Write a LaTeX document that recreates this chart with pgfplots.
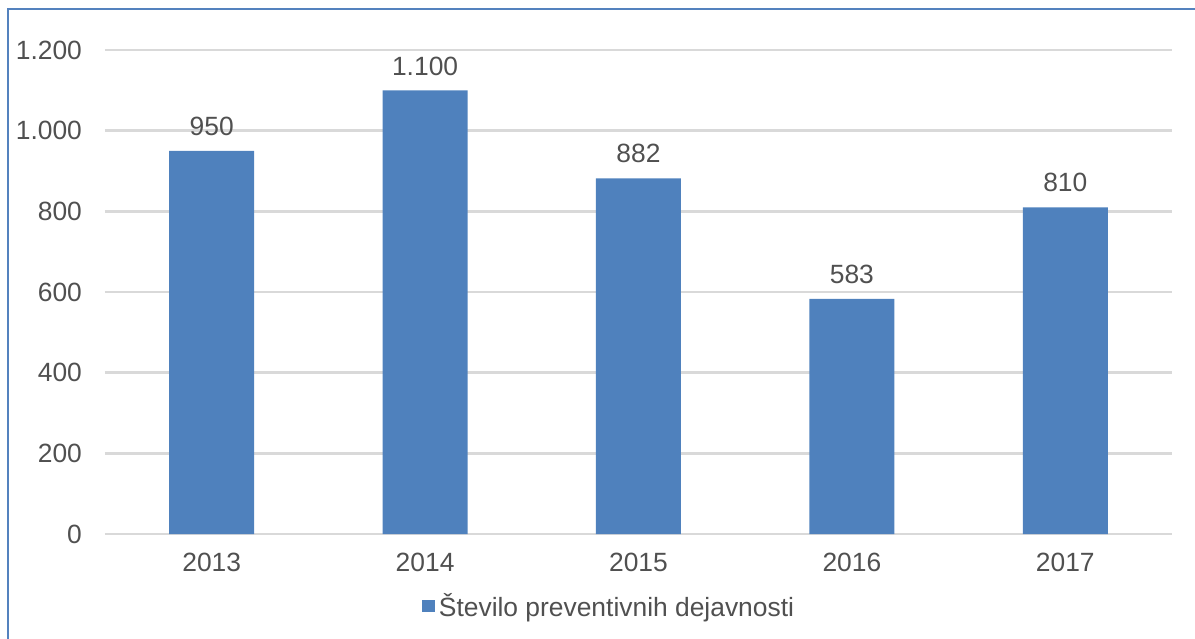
\documentclass[border=0pt]{standalone}
\usepackage{pgfplots}
\pgfplotsset{compat=1.18}
\usepackage{fontspec}
\setmainfont{Liberation Sans}
\definecolor{barblue}{RGB}{79,129,189}
\definecolor{framblue}{RGB}{84,130,190}
\definecolor{gridgray}{RGB}{217,217,217}
\definecolor{txtgray}{RGB}{80,80,80}
\begin{document}
\begin{tikzpicture}
\begin{axis}[%
  scale only axis,%
  width=533.5pt,%
  height=242pt,%
  xmin=-0.5, xmax=4.5,%
  ymin=0, ymax=1200,%
  xtick=data,%
  xticklabels={2013,2014,2015,2016,2017},%
  ytick={0,200,400,600,800,1000,1200},%
  ymajorgrids,%
  grid style={gridgray, line width=1.2pt},%
  axis line style={draw=none},%
  major tick length=0pt,%
  /pgf/number format/assume math mode=true,%
  /pgf/number format/1000 sep={.},%
  ticklabel style={font=\fontsize{13.2}{15}\selectfont, text=txtgray},%
  yticklabel style={xshift=-8pt},%
  xticklabel style={yshift=-6pt},%
  legend style={at={(252.5pt,-36pt)}, anchor=center, draw=none,%
    font=\fontsize{13.2}{15}\selectfont, text=txtgray, inner sep=0pt},%
  legend image code/.code={\fill[barblue] (-1pt,-3.2pt) rectangle (5.5pt,3.2pt);},%
  nodes near coords,%
  nodes near coords style={font=\fontsize{13.2}{15}\selectfont, text=txtgray, anchor=south, yshift=4pt},%
  clip=false%
]
\draw[gridgray, line width=1.2pt] (rel axis cs:0,0) -- (rel axis cs:1,0);
\addplot[ybar, bar width=42.5pt, fill=barblue, draw=none] coordinates {
  (0, 950)
  (1, 1100)
  (2, 882)
  (3, 583)
  (4, 810)
};
\addlegendentry{Število preventivnih dejavnosti}
\end{axis}
\draw[framblue, line width=1pt] (-48.25pt,-70pt) -- (-48.25pt,262.25pt) -- (560pt,262.25pt);
\pgfresetboundingbox
\path[use as bounding box] (-52.5pt,-52pt) rectangle (545pt,267pt);
\end{tikzpicture}
\end{document}
